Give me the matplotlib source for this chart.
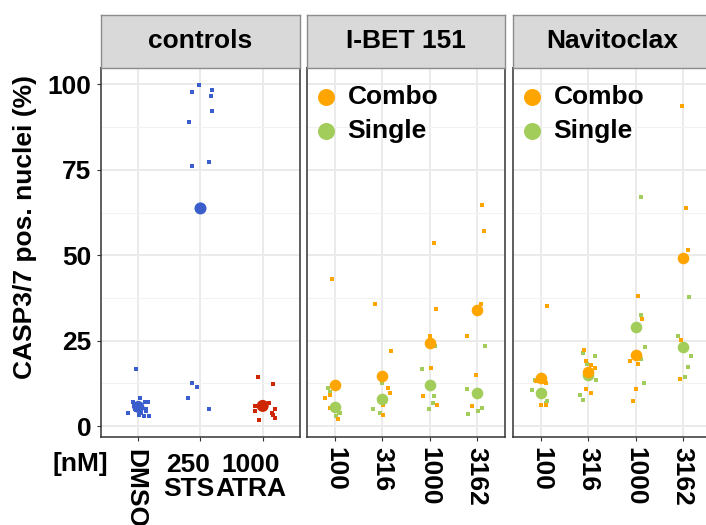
import numpy as np
import matplotlib
matplotlib.use("Agg")
import matplotlib.pyplot as plt
import matplotlib.transforms as mtransforms

plt.rcParams['font.family'] = ['Liberation Sans', 'DejaVu Sans']
plt.rcParams['font.weight'] = 'bold'

# ---- data: (horizontal jitter in category units, % positive nuclei) ----
ctrl_labels = ["DMSO", "250\nSTS", "1000\nATRA"]
ctrl_colors = ["#3A5FCD", "#3A5FCD", "#CD2600"]
ctrl_means = [5.6, 63.7, 5.9]
dmso_reps = [(-0.03, 16.7), (0.02, 8.3), (-0.09, 7.0), (0.10, 7.0), (0.15, 7.0),
             (-0.17, 3.8), (0.01, 3.1), (0.09, 2.8), (0.17, 2.8), (0.05, 3.8),
             (0.13, 5.1), (0.13, 4.4), (-0.05, 5.0), (0.04, 6.2), (-0.03, 4.6),
             (0.06, 5.4), (-0.07, 6.0), (0.02, 4.2)]
sts_reps = [(-0.02, 99.7), (0.19, 98.4), (-0.13, 97.7), (0.17, 96.5), (0.19, 92.3),
            (-0.18, 89.1), (0.13, 77.2), (-0.13, 76.1), (-0.13, 12.5), (-0.06, 11.5),
            (-0.20, 8.3), (0.13, 5.1)]
atra_reps = [(-0.08, 14.4), (0.17, 12.2), (0.10, 6.7), (-0.13, 5.8), (0.19, 5.1),
             (-0.13, 4.4), (0.15, 3.8), (0.17, 3.1), (0.19, 2.4), (-0.06, 1.8)]
ctrl_reps = [dmso_reps, sts_reps, atra_reps]

doses = ["100", "316", "1000", "3162"]
series = ["Combo", "Single"]
series_colors = {"Combo": "#FFA500", "Single": "#A2CD5A"}

ibet_means = {"Combo": [12.0, 14.7, 24.4, 34.0],
              "Single": [5.7, 7.8, 12.0, 9.6]}
ibet_reps = {
    "Combo": [
        [(-0.06, 42.9), (-0.11, 9.0), (-0.22, 8.3), (-0.12, 5.4), (0.06, 2.1)],
        [(-0.15, 35.8), (0.18, 21.9), (0.11, 11.2), (0.16, 9.7), (0.01, 3.1), (0.01, 6.3)],
        [(0.09, 53.6), (0.13, 34.2), (0.00, 26.4), (0.02, 17.1), (-0.14, 8.7), (0.16, 6.1)],
        [(0.12, 64.6), (0.15, 57.1), (0.10, 35.8), (-0.20, 26.4), (-0.02, 14.8), (-0.09, 5.8)],
    ],
    "Single": [
        [(-0.15, 11.2), (-0.11, 9.9), (0.02, 2.9), (0.07, 3.7), (0.09, 3.9)],
        [(0.00, 12.6), (-0.20, 5.1), (-0.06, 3.7)],
        [(0.12, 23.5), (-0.16, 16.7), (0.09, 8.7), (0.07, 6.7), (-0.02, 5.1)],
        [(0.17, 23.5), (-0.20, 10.9), (0.12, 5.4), (0.03, 4.4), (-0.18, 3.4)],
    ],
}

navi_means = {"Combo": [14.2, 15.9, 20.8, 49.3],
              "Single": [9.8, 14.9, 28.9, 23.0]}
navi_reps = {
    "Combo": [
        [(0.13, 35.1), (-0.11, 13.2), (0.11, 12.6), (-0.01, 6.1), (0.09, 6.1)],
        [(-0.10, 22.2), (-0.06, 19.0), (0.06, 18.0), (0.13, 17.1), (-0.05, 10.9), (0.06, 9.7)],
        [(0.06, 38.0), (0.13, 31.2), (-0.11, 19.0), (0.06, 18.3), (0.01, 10.9), (-0.06, 7.3)],
        [(-0.01, 93.6), (0.06, 63.9), (0.11, 51.6), (-0.04, 25.1), (-0.06, 13.8)],
    ],
    "Single": [
        [(-0.13, 13.5), (-0.20, 10.5), (0.13, 7.3), (0.09, 6.8)],
        [(-0.12, 21.3), (0.13, 20.6), (-0.02, 18.3), (0.16, 13.5), (-0.17, 9.0), (-0.12, 7.6)],
        [(0.11, 67.1), (0.11, 32.5), (0.20, 23.2), (0.11, 19.6), (0.18, 12.6)],
        [(0.13, 37.7), (-0.11, 26.4), (0.17, 20.6), (0.11, 17.4), (0.04, 14.5)],
    ],
}

W, H = 706, 525
FS = 19
fig = plt.figure(figsize=(W / 100, H / 100), dpi=100)


def px_axes(x0, y0, x1, y1):
    # pixel box (top-left origin) -> figure axes
    return fig.add_axes([x0 / W, 1 - y1 / H, (x1 - x0) / W, (y1 - y0) / H])


def style_panel(ax, ncat):
    ax.set_xlim(0.4, ncat + 0.6)
    ax.set_ylim(-3.2, 104.8)
    ax.set_facecolor("white")
    ax.set_yticks([0, 25, 50, 75, 100])
    ax.set_yticks([12.5, 37.5, 62.5, 87.5], minor=True)
    ax.set_xticks(range(1, ncat + 1))
    ax.grid(which="major", color="#EBEBEB", lw=1.4)
    ax.grid(which="minor", axis="y", color="#F2F2F2", lw=0.8)
    ax.set_axisbelow(True)
    for sp in ax.spines.values():
        sp.set_color("#333333")
        sp.set_linewidth(1.1)
    ax.tick_params(axis="both", which="major", length=3, width=0.8,
                   color="#333333", labelsize=FS, pad=4)
    ax.tick_params(axis="y", which="minor", length=0)


def strip(x0, x1, label):
    s = px_axes(x0, 15, x1, 68)
    s.set_facecolor("#D9D9D9")
    s.set_xticks([])
    s.set_yticks([])
    for sp in s.spines.values():
        sp.set_color("#8C8C8C")
        sp.set_linewidth(1.0)
    s.text(0.5, 0.5, label, transform=s.transAxes, ha="center", va="center",
           fontsize=FS, fontweight="bold")


def drug_panel(ax, means, reps):
    for name in ["Single", "Combo"]:
        for i, pts in enumerate(reps[name]):
            xs = [i + 1 + dx for dx, v in pts]
            ys = [v for dx, v in pts]
            ax.scatter(xs, ys, s=7, marker="s", color=series_colors[name],
                       linewidths=0, zorder=3)
    for name in ["Single", "Combo"]:
        ax.scatter(np.arange(1, 5), means[name], s=70, color=series_colors[name],
                   linewidths=0, zorder=4)
    for k, name in enumerate(series):
        yy = 0.921 - k * 0.092
        ax.scatter([0.094], [yy], s=150, color=series_colors[name], linewidths=0,
                   transform=ax.transAxes, zorder=5)
        ax.text(0.205, yy, name, transform=ax.transAxes, ha="left", va="center",
                fontsize=FS, fontweight="bold")
    ax.set_xticklabels(doses, rotation=-90, fontweight="bold")
    ax.set_yticklabels([])
    ax.tick_params(axis="y", length=0)


# controls panel
ax_c = px_axes(101, 68, 300, 437)
style_panel(ax_c, 3)
for i, pts in enumerate(ctrl_reps):
    xs = [i + 1 + dx for dx, v in pts]
    ys = [v for dx, v in pts]
    ax_c.scatter(xs, ys, s=7, marker="s", color=ctrl_colors[i], linewidths=0, zorder=3)
ax_c.scatter(np.arange(1, 4), ctrl_means, s=75, color=ctrl_colors, linewidths=0, zorder=4)
ax_c.set_yticklabels(["0", "25", "50", "75", "100"], fontweight="bold")
ax_c.set_xticklabels(ctrl_labels, fontweight="bold", linespacing=1.0)
shift = mtransforms.ScaledTranslation(-12 / 100, -6 / 100, fig.dpi_scale_trans)
for j, lab in enumerate(ax_c.get_xticklabels()):
    if j == 0:
        lab.set_rotation(-90)
        lab.set_transform(lab.get_transform()
                          + mtransforms.ScaledTranslation(-3 / 100, -2 / 100, fig.dpi_scale_trans))
    else:
        lab.set_transform(lab.get_transform() + shift)
strip(101, 300, "controls")

# I-BET 151 panel
ax_i = px_axes(307, 68, 505, 437)
style_panel(ax_i, 4)
drug_panel(ax_i, ibet_means, ibet_reps)
strip(307, 505, "I-BET 151")

# Navitoclax panel (runs past the right edge of the canvas)
ax_n = px_axes(513, 68, 711, 437)
style_panel(ax_n, 4)
drug_panel(ax_n, navi_means, navi_reps)
strip(513, 711, "Navitoclax")

fig.text(25 / W, 1 - 227 / H, "CASP3/7 pos. nuclei (%)", rotation=90,
         ha="center", va="center", fontsize=FS, fontweight="bold")
fig.text(80 / W, 1 - 464 / H, "[nM]", ha="center", va="center",
         fontsize=FS, fontweight="bold")

fig.savefig("out.png", dpi=100)
